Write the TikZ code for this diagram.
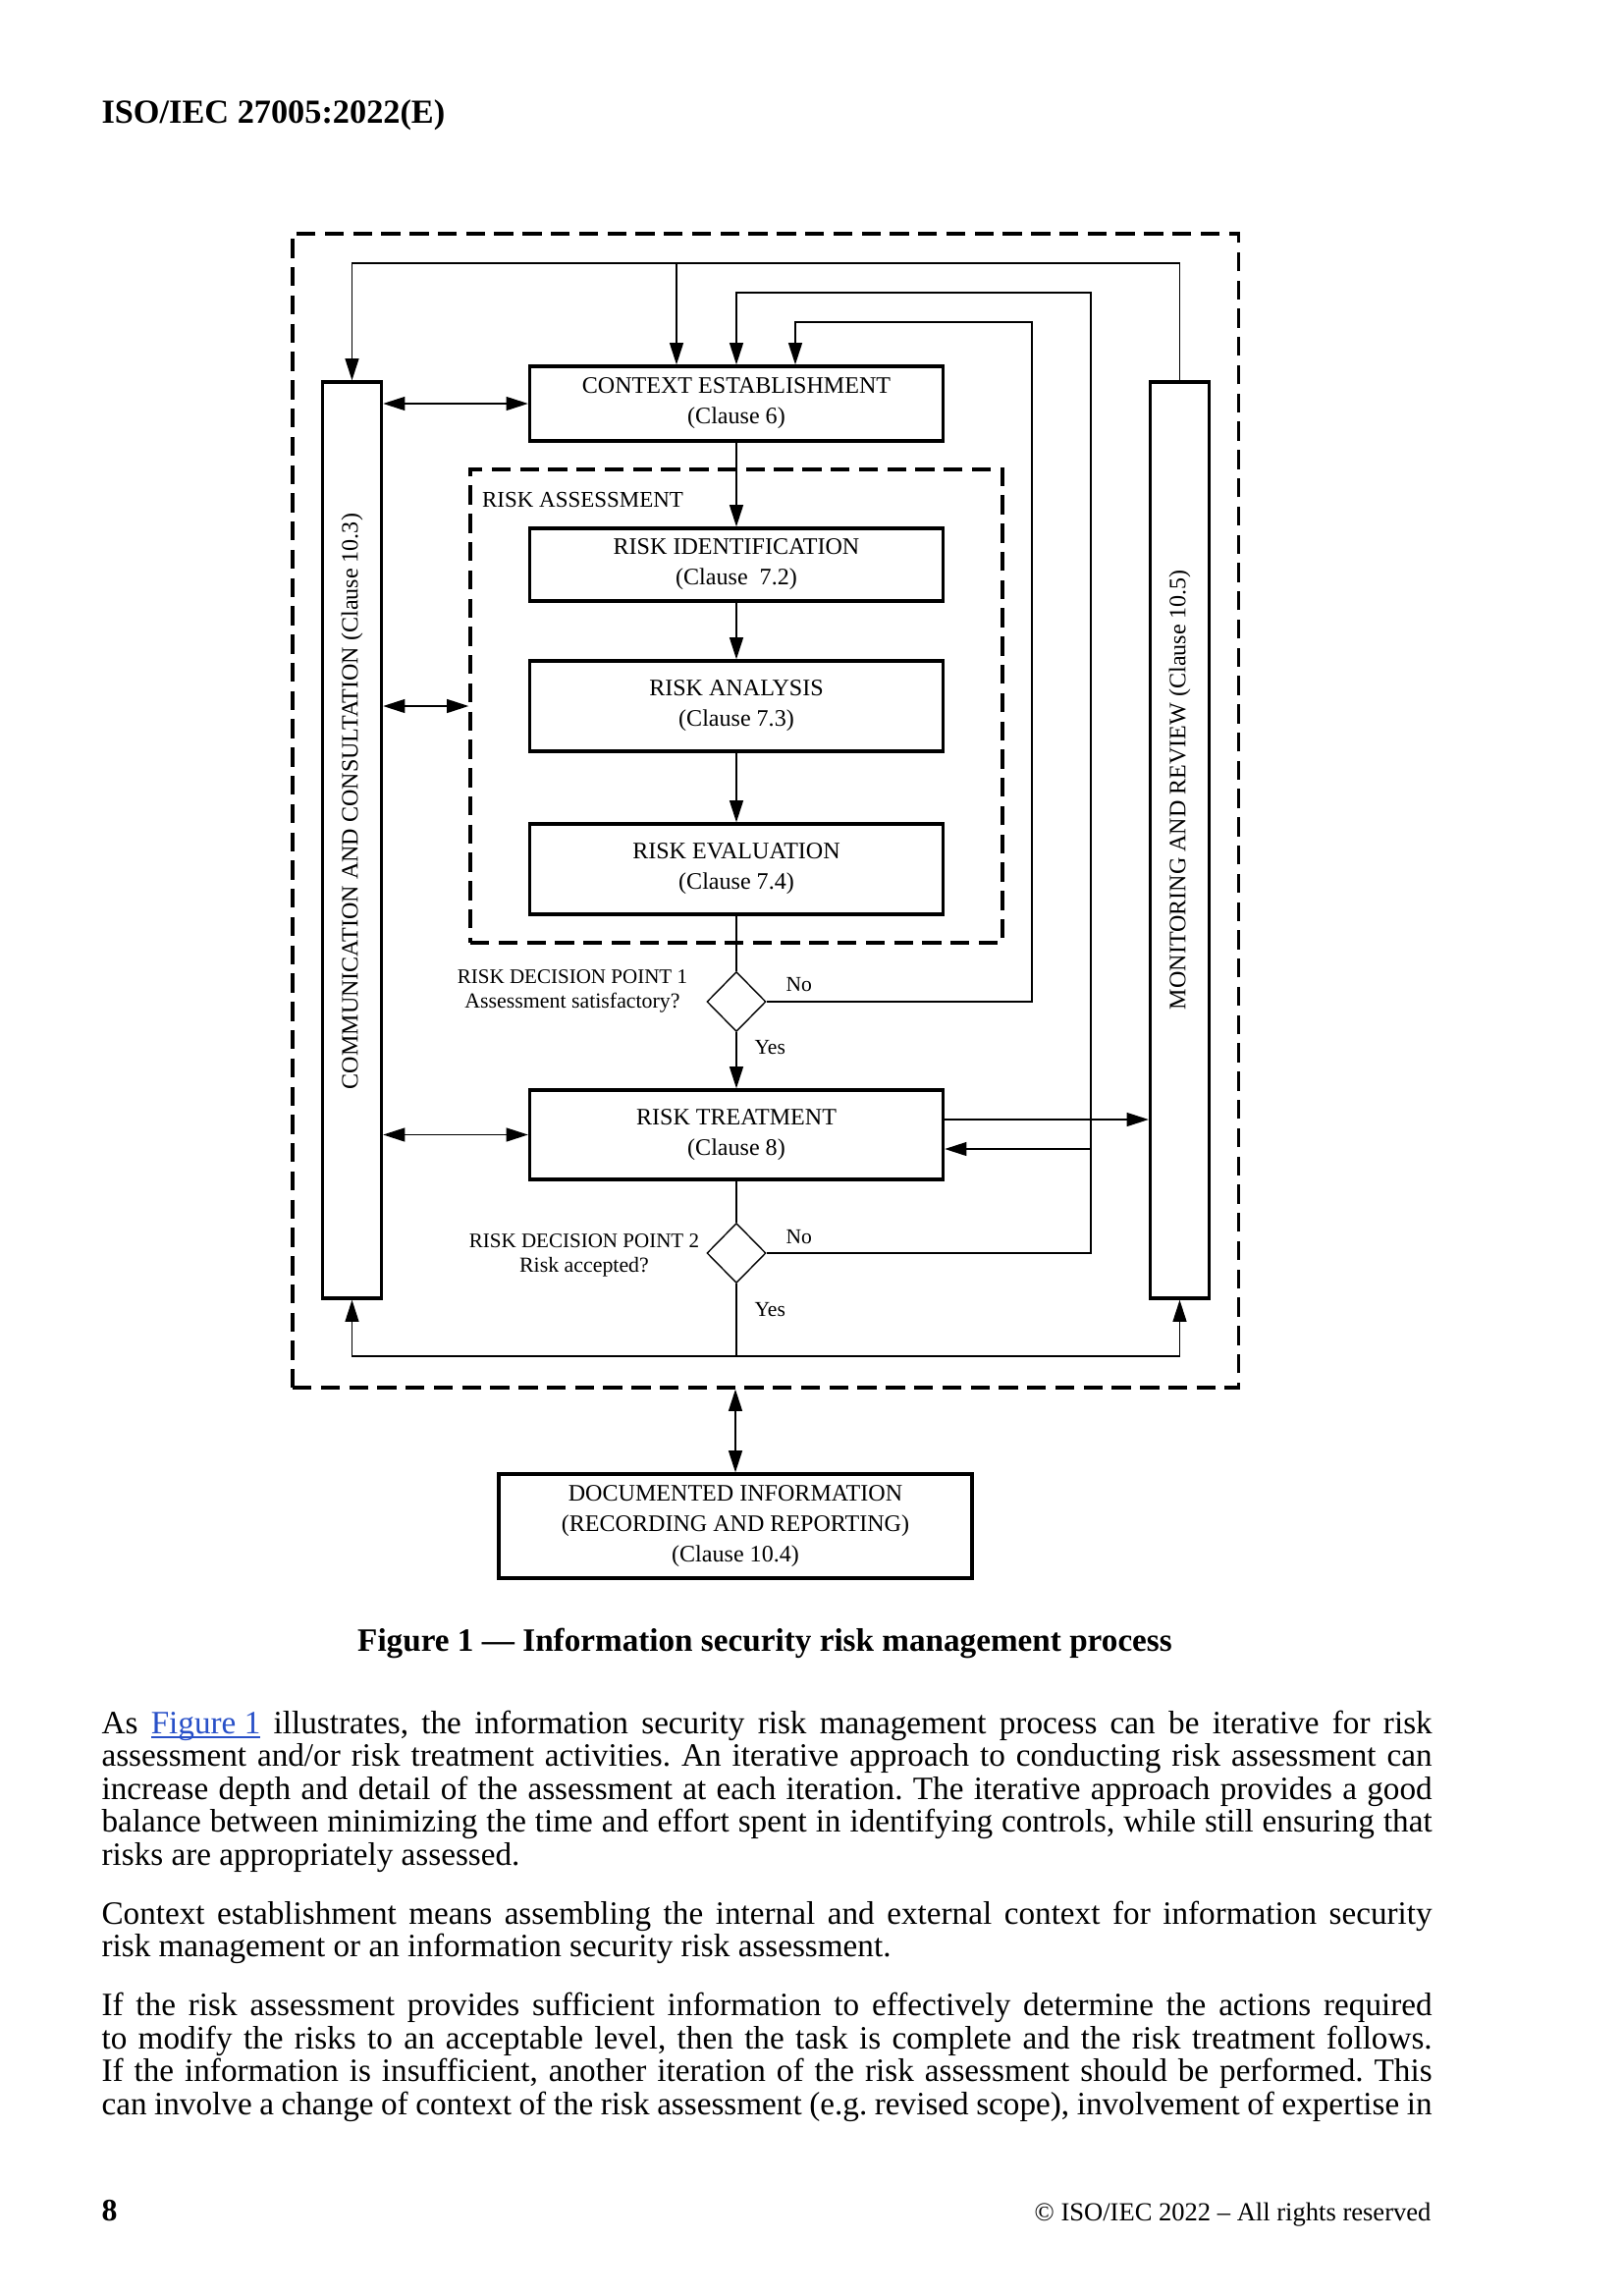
\documentclass[tikz,border=0pt]{standalone}
\usepackage{fontspec}
\setmainfont{Liberation Serif}
\usetikzlibrary{arrows.meta,shapes.geometric,calc}
\definecolor{linkblue}{RGB}{40,80,200}
\def\px{0.36147pt}
\frenchspacing
\newcommand{\jline}[1]{\makebox[489.8pt][s]{#1}}
\newcommand{\linkul}[1]{\setbox0\hbox{#1}\rlap{\rule[-1.7pt]{\wd0}{0.55pt}}\box0}
\newcommand{\diagfont}{\fontsize{8.7}{11.2}\selectfont}
\newcommand{\smallfont}{\fontsize{7.6}{9}\selectfont}
\newcommand{\bodyfont}{\fontsize{12}{12.2}\selectfont}
\begin{document}
\begin{tikzpicture}[x=0.36147pt,y=-0.36147pt,
  box/.style={draw,line width=1.2pt,rectangle,inner sep=0pt,align=center,font=\diagfont},
  bar/.style={draw,line width=1.2pt,rectangle,inner sep=0pt,minimum width={60*\px},minimum height={933*\px}},
  dashbox/.style={draw,line width=1.2pt,dash pattern=on 7pt off 3.4pt,rectangle,inner sep=0pt},
  dec/.style={draw,line width=0.5pt,diamond,inner sep=0pt,minimum width={60*\px},minimum height={61*\px}},
  conn/.style={line width=0.6pt},
  tip/.tip={Triangle[length=8pt,width=5pt]},
  txt/.style={inner sep=0pt,font=\bodyfont},
  lab/.style={inner sep=0pt,font=\smallfont},
]
\fill[white] (0,0) rectangle (1653,2338);
\useasboundingbox (0,0) rectangle (1653,2338);

% header
\node[inner sep=0pt,anchor=base west,font=\fontsize{12.4}{14}\selectfont\bfseries] (hdr) at (103,125) {ISO/IEC 27005:2022(E)};

% frames
\node[dashbox,minimum width={963.5*\px},minimum height={1175*\px}] (outer) at (779.75,825.5) {};
\node[dashbox,minimum width={542*\px},minimum height={482*\px}] (ra) at (750,719) {};
\node[inner sep=0pt,anchor=base west,font=\fontsize{8.3}{10}\selectfont] (ralab) at (490.6,516) {RISK ASSESSMENT};

% boxes
\node[box,minimum width={421*\px},minimum height={76*\px}] (ctx) at (750,411) {CONTEXT ESTABLISHMENT\\(Clause 6)};
\node[box,minimum width={421*\px},minimum height={74*\px}] (ident) at (750,575) {RISK IDENTIFICATION\\(Clause\ \ 7.2)};
\node[box,minimum width={421*\px},minimum height={92*\px}] (anal) at (750,719) {RISK ANALYSIS\\(Clause 7.3)};
\node[box,minimum width={421*\px},minimum height={92*\px}] (eval) at (750,885) {RISK EVALUATION\\(Clause 7.4)};
\node[box,minimum width={421*\px},minimum height={91*\px}] (treat) at (750,1155.5) {RISK TREATMENT\\(Clause 8)};
\node[box,minimum width={482*\px},minimum height={106*\px}] (doc) at (749,1554) {DOCUMENTED INFORMATION\\(RECORDING AND REPORTING)\\(Clause 10.4)};

% side bars
\node[bar] (commbar) at (358.5,855.5) {};
\node[bar] (monbar) at (1201.5,855.5) {};
\node[inner sep=0pt,rotate=90,font=\diagfont] (commlab) at (358.5,816) {COMMUNICATION AND CONSULTATION (Clause 10.3)};
\node[inner sep=0pt,rotate=90,font=\diagfont] (monlab) at (1201.5,804) {MONITORING AND REVIEW (Clause 10.5)};

% decisions
\node[dec] (dp1) at (750,1020) {};
\node[dec] (dp2) at (750,1276) {};
\node[lab,anchor=base] (dp1a) at (583,1001) {RISK DECISION POINT 1};
\node[lab,anchor=base] (dp1b) at (583,1026) {\fontsize{7.9}{9}\selectfont Assessment satisfactory?};
\node[lab,anchor=base] (dp2a) at (595,1270) {RISK DECISION POINT 2};
\node[lab,anchor=base] (dp2b) at (595,1295) {\fontsize{7.9}{9}\selectfont Risk accepted?};
\node[lab,anchor=base west,font=\fontsize{7.8}{9}\selectfont] (no1) at (800,1009) {No};
\node[lab,anchor=base west,font=\fontsize{7.8}{9}\selectfont] (yes1) at (768,1073) {Yes};
\node[lab,anchor=base west,font=\fontsize{7.8}{9}\selectfont] (no2) at (800,1266) {No};
\node[lab,anchor=base west,font=\fontsize{7.8}{9}\selectfont] (yes2) at (768,1340) {Yes};

% coordinates for routing
\coordinate (tl) at (358.5,268);
\coordinate (t1) at (689,268);
\coordinate (r2) at (1111,298);
\coordinate (c2) at (750,298);
\coordinate (b2) at (1111,1170);
\coordinate (r3) at (1051,328);
\coordinate (c3) at (810,328);
\coordinate (tout) at (960.5,1140);
\coordinate (bm) at (750,1381);
\coordinate (bl) at (358.5,1381);
\coordinate (br) at (1201.5,1381);

% top loops
\draw[conn,-tip] (monbar.north) |- (tl) -- (commbar.north);
\draw[conn,-tip] (t1) -- (t1 |- ctx.north);
\draw[conn,-tip] (dp2.east) -| (r2) -- (c2) -- (ctx.north);
\draw[conn,-tip] (b2) -- (b2 -| treat.east);
\draw[conn,-tip] (dp1.east) -| (r3) -- (c3) -- (c3 |- ctx.north);

% main flow
\draw[conn,-tip] (ctx.south) -- (ident.north);
\draw[conn,-tip] (ident.south) -- (anal.north);
\draw[conn,-tip] (anal.south) -- (eval.north);
\draw[conn] (eval.south) -- (dp1.north);
\draw[conn,-tip] (dp1.south) -- (treat.north);
\draw[conn] (treat.south) -- (dp2.north);
\draw[conn] (dp2.south) -- (bm);
\draw[conn,-tip] (bm) -- (bl) -- (commbar.south);
\draw[conn,-tip] (bm) -- (br) -- (monbar.south);

% side connections
\draw[conn,tip-tip] (commbar.east |- ctx.west) -- (ctx.west);
\draw[conn,tip-tip] (commbar.east |- ra.west) -- (ra.west);
\draw[conn,tip-tip] (commbar.east |- treat.west) -- (treat.west);
\draw[conn,-tip] (tout) -- (tout -| monbar.west);
\draw[conn,tip-tip] (doc.north |- outer.south) -- (doc.north);

% caption
\node[inner sep=0pt,anchor=base,font=\fontsize{12}{14}\selectfont\bfseries] (cap) at (779,1681) {Figure 1 — Information security risk management process};

% body text
\node[txt,anchor=base west] (p1a) at (103,1765) {\jline{As \textcolor{linkblue}{\linkul{Figure 1}} illustrates, the information security risk management process can be iterative for risk}};
\node[txt,anchor=base west] (p1b) at (103,1798.6) {\jline{assessment and/or risk treatment activities. An iterative approach to conducting risk assessment can}};
\node[txt,anchor=base west] (p1c) at (103,1832.2) {\jline{increase depth and detail of the assessment at each iteration. The iterative approach provides a good}};
\node[txt,anchor=base west] (p1d) at (103,1865.8) {\jline{balance between minimizing the time and effort spent in identifying controls, while still ensuring that}};
\node[txt,anchor=base west] (p1e) at (103,1899.4) {risks are appropriately assessed.};
\node[txt,anchor=base west] (p2a) at (103,1959) {\jline{Context establishment means assembling the internal and external context for information security}};
\node[txt,anchor=base west] (p2b) at (103,1992.6) {risk management or an information security risk assessment.};
\node[txt,anchor=base west] (p3a) at (103,2052.6) {\jline{If the risk assessment provides sufficient information to effectively determine the actions required}};
\node[txt,anchor=base west] (p3b) at (103,2086.2) {\jline{to modify the risks to an acceptable level, then the task is complete and the risk treatment follows.}};
\node[txt,anchor=base west] (p3c) at (103,2119.8) {\jline{If the information is insufficient, another iteration of the risk assessment should be performed. This}};
\node[txt,anchor=base west] (p3d) at (103,2153.4) {\jline{can involve a change of context of the risk assessment (e.g. revised scope), involvement of expertise in}};

% footer
\node[inner sep=0pt,anchor=base west,font=\fontsize{11.5}{13}\selectfont\bfseries] (pg) at (103,2261) {8};
\node[inner sep=0pt,anchor=base east,font=\fontsize{9.6}{11}\selectfont] (copy) at (1458,2261) {© ISO/IEC 2022 – All rights reserved};
\end{tikzpicture}
\end{document}
